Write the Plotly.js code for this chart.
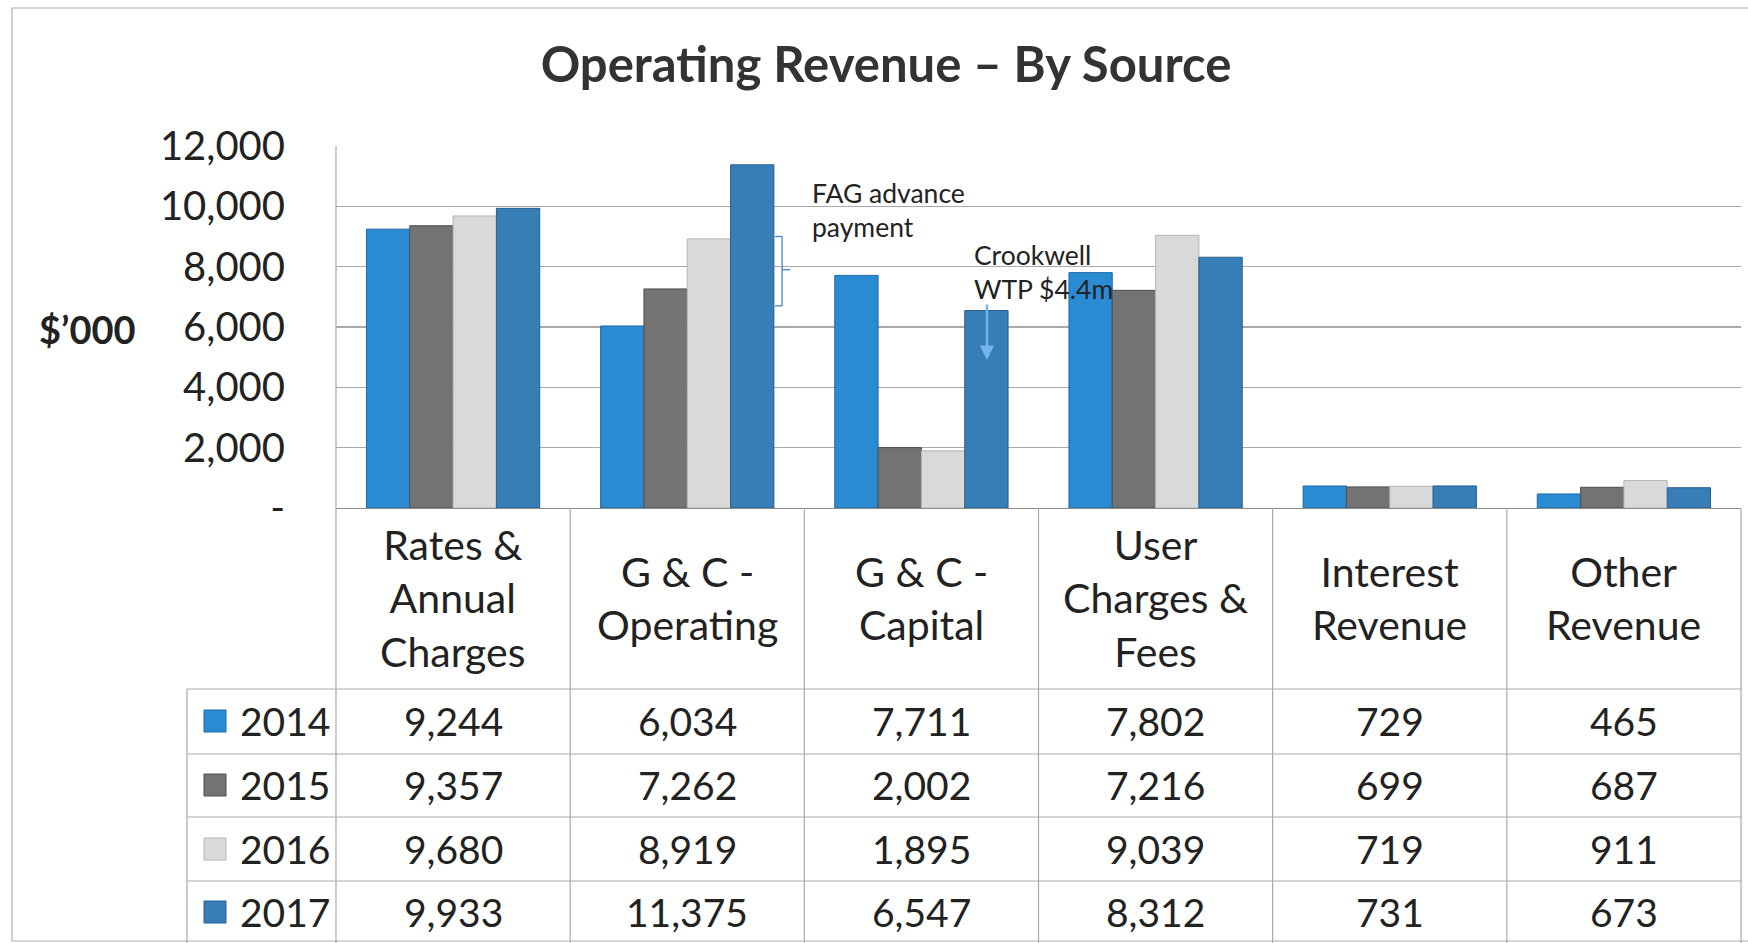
<!DOCTYPE html>
<html>
<head>
<meta charset="utf-8">
<script src="https://cdn.plot.ly/plotly-3.0.1.min.js"></script>
<style>
html,body{margin:0;padding:0;background:#fff;}
#chart{width:1748px;height:943px;}
</style>
</head>
<body>
<div id="chart"></div>
<script>
// ---- data ----
const categories = ['Rates & Annual Charges', 'G & C - Operating', 'G & C - Capital', 'User Charges & Fees', 'Interest Revenue', 'Other Revenue'];
const categoryLabels = ['Rates &<br>Annual<br>Charges', 'G & C -<br>Operating', 'G & C -<br>Capital', 'User<br>Charges &<br>Fees', 'Interest<br>Revenue', 'Other<br>Revenue'];
const years = ['2014', '2015', '2016', '2017'];
const values2014 = [9244, 6034, 7711, 7802, 729, 465];
const values2015 = [9357, 7262, 2002, 7216, 699, 687];
const values2016 = [9680, 8919, 1895, 9039, 719, 911];
const values2017 = [9933, 11375, 6547, 8312, 731, 673];
const seriesValues = [values2014, values2015, values2016, values2017];
const yTickVals = [0, 2000, 4000, 6000, 8000, 10000, 12000];
const yTickText = ['-', '2,000', '4,000', '6,000', '8,000', '10,000', '12,000'];

// ---- styles / geometry ----
const colors = ['#2a8bd3', '#737373', '#d9d9d9', '#377db6'];
const edge = ['#1d6aa6', '#4f4f4f', '#b5b5b5', '#285f8e'];
const W = 1748, H = 943;
const L = 336, R = 7, T = 146, B = 435;   // plot area 336..1741 x 146..508
const plotW = W - L - R, plotH = H - T - B;
const px2py = p => (H - B - p) / plotH;   // pixel y -> paper y
const px2px = p => (p - L) / plotW;       // pixel x -> paper x
const font = 'Lato, "Open Sans", sans-serif';
const txt = '#222222';
const gridC = '#a9a9a9';

const traces = years.map((yr, i) => ({
  type: 'bar', name: yr, x: categories, y: seriesValues[i],
  marker: {color: colors[i], line: {color: edge[i], width: 1}},
  hoverinfo: 'x+y+name'
}));

const annotations = [];
const shapes = [];

// category labels (table header)
categories.forEach((c, i) => {
  annotations.push({xref: 'x', yref: 'paper', x: c, y: px2py(598), text: categoryLabels[i],
    showarrow: false, xanchor: 'center', yanchor: 'middle', align: 'center',
    font: {family: font, size: 41, color: txt}});
});
// row centres of the table
const rowCenters = [721, 785, 849, 912];
years.forEach((yr, r) => {
  // legend swatch
  shapes.push({type: 'rect', xref: 'paper', yref: 'paper',
    x0: px2px(204), x1: px2px(226), y0: px2py(rowCenters[r] - 11), y1: px2py(rowCenters[r] + 11),
    fillcolor: colors[r], line: {color: edge[r], width: 1}});
  annotations.push({xref: 'paper', yref: 'paper', x: px2px(238), y: px2py(rowCenters[r]), text: yr,
    showarrow: false, xanchor: 'left', yanchor: 'middle',
    font: {family: font, size: 39, color: txt}});
  categories.forEach((c, i) => {
    annotations.push({xref: 'x', yref: 'paper', x: c, y: px2py(rowCenters[r]),
      text: seriesValues[r][i].toLocaleString('en-US'),
      showarrow: false, xanchor: 'center', yanchor: 'middle',
      font: {family: font, size: 39, color: txt}});
  });
});

// table grid lines
const lineStyle = {color: gridC, width: 1.2};
[689, 754, 817, 881].forEach(p => shapes.push({type: 'line', xref: 'paper', yref: 'paper',
  x0: px2px(187), x1: 1, y0: px2py(p), y1: px2py(p), line: lineStyle}));
shapes.push({type: 'line', xref: 'paper', yref: 'paper', x0: px2px(187), x1: px2px(187),
  y0: px2py(689), y1: px2py(943), line: lineStyle});
shapes.push({type: 'line', xref: 'paper', yref: 'paper', x0: 0, x1: 0,
  y0: 1, y1: px2py(943), line: lineStyle});
shapes.push({type: 'line', xref: 'paper', yref: 'paper', x0: 1, x1: 1,
  y0: 0, y1: px2py(943), line: lineStyle});
for (let k = 1; k < categories.length; k++) {
  shapes.push({type: 'line', xref: 'paper', yref: 'paper', x0: k / categories.length, x1: k / categories.length,
    y0: 0, y1: px2py(943), line: lineStyle});
}
// outer frame
shapes.push({type: 'rect', xref: 'paper', yref: 'paper', x0: px2px(12), x1: px2px(1760),
  y0: px2py(8), y1: px2py(941), line: {color: '#b0b0b0', width: 1.2}, fillcolor: 'rgba(0,0,0,0)'});

// FAG bracket
const brC = '#4a82c4';
const bx = 1.405, btop = 9000, bbot = 6700, bmid = 7900;
shapes.push({type: 'line', xref: 'x', yref: 'y', x0: bx, x1: bx, y0: bbot, y1: btop, line: {color: brC, width: 1.3}});
shapes.push({type: 'line', xref: 'x', yref: 'y', x0: bx - 0.03, x1: bx, y0: btop, y1: btop, line: {color: brC, width: 1.3}});
shapes.push({type: 'line', xref: 'x', yref: 'y', x0: bx - 0.03, x1: bx, y0: bbot, y1: bbot, line: {color: brC, width: 1.3}});
shapes.push({type: 'line', xref: 'x', yref: 'y', x0: bx, x1: bx + 0.035, y0: bmid, y1: bmid, line: {color: brC, width: 1.3}});

annotations.push({xref: 'x', yref: 'y', x: 1.524, y: 9878, text: 'FAG advance<br>payment',
  showarrow: false, xanchor: 'left', yanchor: 'middle', align: 'left',
  font: {family: font, size: 26.5, color: txt}});
annotations.push({xref: 'x', yref: 'y', x: 2.216, y: 7807, text: 'Crookwell<br>WTP $4.4m',
  showarrow: false, xanchor: 'left', yanchor: 'middle', align: 'left',
  font: {family: font, size: 26.5, color: txt}});
// down arrow
annotations.push({xref: 'x', yref: 'y', x: 2.28, y: 4906, ax: 0, ay: -57, text: '',
  showarrow: true, arrowhead: 2, arrowsize: 1.2, arrowwidth: 2.4, arrowcolor: '#74b4ea'});
// $'000 label
annotations.push({xref: 'paper', yref: 'paper', x: px2px(37), y: px2py(329), text: '<b>$’000</b>',
  showarrow: false, xanchor: 'left', yanchor: 'middle',
  font: {family: font, size: 38, color: txt}});

const layout = {
  width: W, height: H,
  margin: {l: L, r: R, t: T, b: B, pad: 0},
  paper_bgcolor: '#ffffff', plot_bgcolor: '#ffffff',
  title: {text: '<b>Operating Revenue – By Source</b>', xref: 'container', x: 886 / W, xanchor: 'center',
    y: 1 - 65 / H, yanchor: 'middle', font: {family: font, size: 49, color: '#333333'}},
  showlegend: false,
  barmode: 'group', bargap: 0.26, bargroupgap: 0,
  xaxis: {type: 'category', range: [-0.5, 5.5], showticklabels: false, showgrid: false,
    showline: true, linecolor: '#8c8c8c', linewidth: 1.2, zeroline: false, ticks: '', fixedrange: true},
  yaxis: {range: [0, 12000], tickvals: yTickVals, ticktext: yTickText, showgrid: true,
    gridcolor: gridC, gridwidth: 1.2, zeroline: false, showline: false, ticks: '',
    ticklabelstandoff: 50, tickfont: {family: font, size: 40, color: txt}, fixedrange: true},
  shapes: shapes, annotations: annotations
};

Plotly.newPlot('chart', traces, layout, {displayModeBar: false, staticPlot: true});
</script>
</body>
</html>
